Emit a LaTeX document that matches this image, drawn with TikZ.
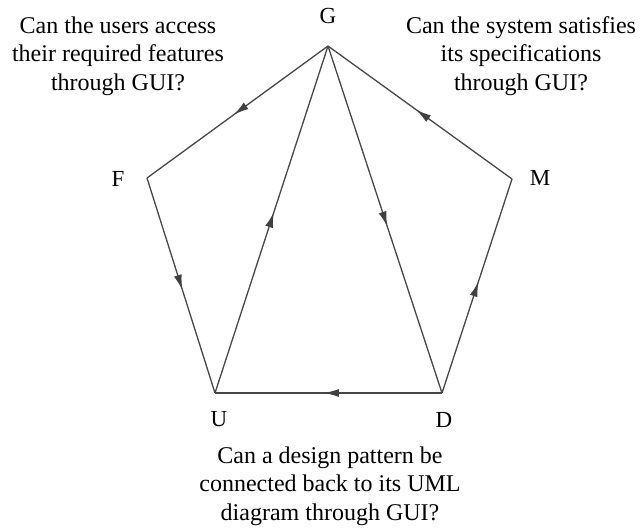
\documentclass[tikz,border=0pt]{standalone}
\usepackage{fontspec}
\setmainfont{Liberation Serif}
\usetikzlibrary{decorations.markings,arrows.meta}
\begin{document}
\begin{tikzpicture}[x=1pt,y=-1pt,
  edge/.style={draw=black!72, line width=1.3pt, postaction={decorate},
    decoration={markings, mark=at position 0.52 with {\arrow[black!75]{Latex[length=15pt,width=8pt]}}}},
  lbl/.style={font=\fontsize{23}{26}\selectfont, inner sep=0pt},
  q/.style={font=\fontsize{24}{28.5}\selectfont, align=center, inner sep=0pt}]
\useasboundingbox (0,0) rectangle (640,529);
\coordinate (G) at (328,46);
\coordinate (F) at (147,178);
\coordinate (M) at (512,179);
\coordinate (U) at (215,393);
\coordinate (D) at (442,393);
\node[lbl] (lG) at (328,16) {G};
\node[lbl] (lF) at (118,179) {F};
\node[lbl] (lM) at (540,178) {M};
\node[lbl] (lU) at (219,419) {U};
\node[lbl] (lD) at (444,420) {D};
\node[q] (qF) at (118,56) {Can the users access\\their required features\\through GUI?};
\node[q] (qM) at (521,56) {Can the system satisfies\\its specifications\\through GUI?};
\node[q] (qU) at (330,486) {Can a design pattern be\\connected back to its UML\\diagram through GUI?};
\draw[edge] (G) -- (F);
\draw[edge] (F) -- (U);
\draw[edge] (U) -- (G);
\draw[edge] (G) -- (D);
\draw[edge] (D) -- (U);
\draw[edge] (D) -- (M);
\draw[edge] (M) -- (G);
\end{tikzpicture}
\end{document}
